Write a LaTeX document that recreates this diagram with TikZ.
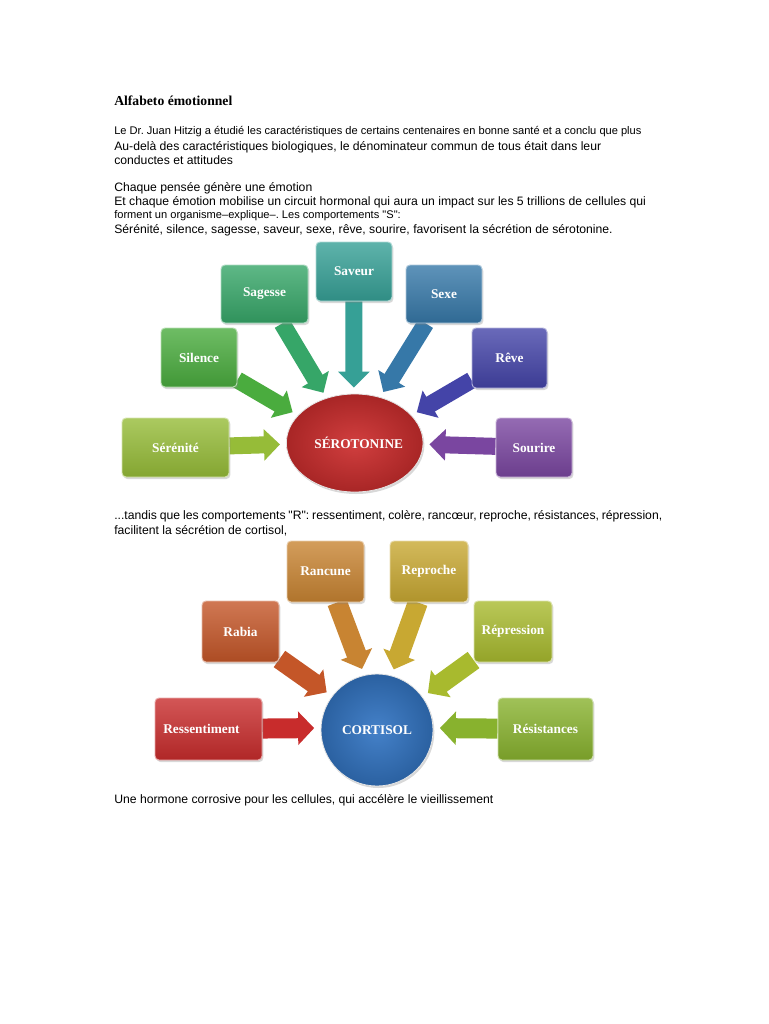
\documentclass[tikz,border=0pt]{standalone}
\usepackage{fontspec}
\setmainfont{Liberation Serif}
\newfontfamily\arialfont{Liberation Sans}
\usetikzlibrary{arrows.meta,shadows,shapes.geometric}
\pgfdeclarelayer{bg}
\pgfdeclarelayer{paper}
\pgfsetlayers{paper,bg,main}
\newdimen\px \px=0.75pt
\definecolor{cSer}{RGB}{150,188,56}
\definecolor{cSil}{RGB}{74,172,62}
\definecolor{cSag}{RGB}{54,166,104}
\definecolor{cSav}{RGB}{54,160,150}
\definecolor{cSex}{RGB}{54,120,168}
\definecolor{cRev}{RGB}{68,68,168}
\definecolor{cSou}{RGB}{122,70,160}
\definecolor{cRed}{RGB}{205,46,46}
\definecolor{cRes}{RGB}{200,44,44}
\definecolor{cRab}{RGB}{196,86,40}
\definecolor{cRan}{RGB}{200,132,50}
\definecolor{cRep}{RGB}{200,168,50}
\definecolor{cRpr}{RGB}{168,186,46}
\definecolor{cRsi}{RGB}{136,178,46}
\definecolor{cBlue}{RGB}{52,118,196}
\begin{document}
\frenchspacing
\begin{tikzpicture}[x=0.75pt,y=-0.75pt,
  box/.style={rectangle, rounded corners=3pt, inner sep=0pt, text=white,
    font=\fontsize{10}{12}\selectfont\bfseries,
    drop shadow={opacity=0.3, shadow xshift=1pt, shadow yshift=-1.5pt}},
  col/.style={top color=#1!80!white, middle color=#1, bottom color=#1!88!black, draw=#1!40!white, line width=0.7pt},
  hub/.style={inner sep=0pt, text=white, font=\fontsize{10}{12}\selectfont\bfseries,
    draw=white!80!gray, line width=0.6pt,
    drop shadow={opacity=0.3, shadow xshift=1pt, shadow yshift=-1.5pt}},
  barrowA/.style={draw=#1, line width=17\px, shorten >=6\px,
    -{Triangle[length=12pt,width=23pt]}},
  barrowB/.style={draw=#1, line width=20\px, shorten >=6.5\px,
    -{Triangle[length=12pt,width=24.5pt]}},
  txt/.style={inner sep=0pt, anchor=base west, font=\arialfont\fontsize{9.15}{11}\selectfont},
  smalltxt/.style={inner sep=0pt, anchor=base west, font=\arialfont\fontsize{8.32}{10}\selectfont},
  title/.style={inner sep=0pt, anchor=base west, font=\fontsize{10.25}{12}\selectfont\bfseries}
]
\begin{pgfonlayer}{paper}
\fill[white] (0,0) rectangle (768,1024);
\end{pgfonlayer}
\useasboundingbox (0,0) rectangle (768,1024);

% texts
\node[title] (t0) at (114,105) {Alfabeto émotionnel};
\node[smalltxt] (t1) at (114,134) {Le Dr. Juan Hitzig a étudié les caractéristiques de certains centenaires en bonne santé et a conclu que plus};
\node[txt] (t2) at (114,150) {Au-delà des caractéristiques biologiques, le dénominateur commun de tous était dans leur};
\node[txt] (t3) at (114,164) {conductes et attitudes};
\node[txt] (t4) at (114,191) {Chaque pensée génère une émotion};
\node[txt] (t5) at (114,205) {Et chaque émotion mobilise un circuit hormonal qui aura un impact sur les 5 trillions de cellules qui};
\node[smalltxt] (t6) at (114,218) {forment un organisme–explique–. Les comportements "S":};
\node[txt] (t7) at (114,233) {Sérénité, silence, sagesse, saveur, sexe, rêve, sourire, favorisent la sécrétion de sérotonine.};
\node[txt] (t8) at (114,519) {\makebox[411pt][s]{...tandis que les comportements "R": ressentiment, colère, rancœur, reproche, résistances, répression,}};
\node[txt] (t9) at (114,534) {facilitent la sécrétion de cortisol,};
\node[txt] (t10) at (114,803) {Une hormone corrosive pour les cellules, qui accélère le vieillissement};

% diagram 1
\node[hub, ellipse, minimum width=136\px, minimum height=98\px,
  inner color=cRed!92!white, outer color=cRed!82!black] (ell) at (354.7,443) {\hspace*{8\px}SÉROTONINE};
\node[box, col=cSer, minimum width=107\px, minimum height=59\px] (ser) at (175.5,447.5) {Sérénité};
\node[box, col=cSil, minimum width=76\px, minimum height=59\px] (sil) at (199,357.5) {Silence};
\node[box, col=cSag, minimum width=87\px, minimum height=58\px] (sag) at (264.5,294) {Sagesse};
\node[box, col=cSav, minimum width=76\px, minimum height=59\px] (sav) at (354,271.5) {Saveur};
\node[box, col=cSex, minimum width=76\px, minimum height=58\px] (sex) at (444,294) {Sexe};
\node[box, col=cRev, minimum width=75\px, minimum height=60\px] (rev) at (509.5,358) {Rêve};
\node[box, col=cSou, minimum width=76\px, minimum height=59\px] (sou) at (534,447.5) {Sourire};

% diagram 2
\node[hub, circle, minimum size=112\px,
  inner color=cBlue!92!white, outer color=cBlue!82!black] (cor) at (377,730) {CORTISOL};
\node[box, col=cRes, minimum width=107\px, minimum height=62\px] (res) at (208.5,729) {Ressentiment\hspace*{14\px}};
\node[box, col=cRab, minimum width=77\px, minimum height=61\px] (rab) at (240.5,631.5) {Rabia};
\node[box, col=cRan, minimum width=77\px, minimum height=61\px] (ran) at (325.5,571.5) {Rancune};
\node[box, col=cRep, minimum width=78\px, minimum height=61\px] (rep) at (429,571.5) {Reproche};
\node[box, col=cRpr, minimum width=78\px, minimum height=61\px] (rpr) at (513,631.5) {Répression};
\node[box, col=cRsi, minimum width=95\px, minimum height=62\px] (rsi) at (545.5,729) {Résistances};

\begin{pgfonlayer}{bg}
\draw[barrowA=cSer] (ser) -- (ell.181.5);
\draw[barrowA=cSil] (sil) -- (ell.154);
\draw[barrowA=cSag] (sag) -- (ell.122);
\draw[barrowA=cSav] (sav) -- (ell.91.7);
\draw[barrowA=cSex] (sex) -- (ell.61);
\draw[barrowA=cRev] (rev) -- (ell.26.4);
\draw[barrowA=cSou] (sou) -- (ell.-1.6);
\draw[barrowB=cRes] (res) -- (cor.178);
\draw[barrowB=cRab] (rab) -- (cor.143.7);
\draw[barrowB=cRan] (ran) -- (cor.103);
\draw[barrowB=cRep] (rep) -- (cor.75);
\draw[barrowB=cRpr] (rpr) -- (cor.36);
\draw[barrowB=cRsi] (rsi) -- (cor.2);
\end{pgfonlayer}
\end{tikzpicture}
\end{document}
